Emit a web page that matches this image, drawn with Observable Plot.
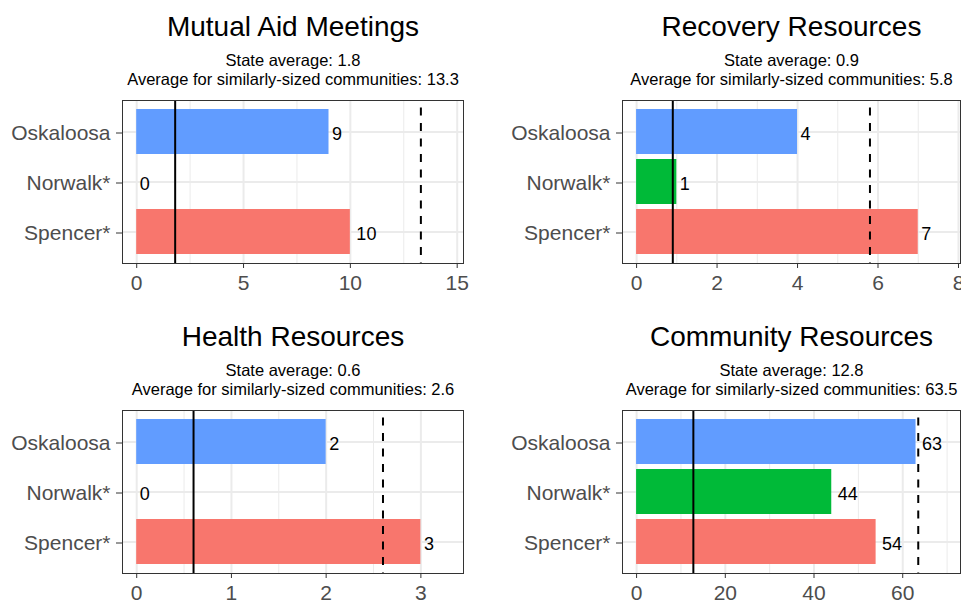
<!DOCTYPE html>
<html><head><meta charset="utf-8">
<script src="https://cdn.jsdelivr.net/npm/d3@7"></script>
<script src="https://cdn.jsdelivr.net/npm/@observablehq/plot@0.6"></script>
<style>
html,body{margin:0;padding:0;background:#fff;overflow:hidden;width:961px;height:601px}
#wrap{position:relative;width:961px;height:601px;font-family:"Liberation Sans",Arial,sans-serif}
.panel{position:absolute}
</style></head><body><div id="wrap"></div>
<script>
const communities = ["Oskaloosa", "Norwalk*", "Spencer*"];
const barColors = ["#619CFF", "#00BA38", "#F8766D"];
const titles = ["Mutual Aid Meetings", "Recovery Resources", "Health Resources", "Community Resources"];
const mutualAid = [9, 0, 10];
const recovery = [4, 1, 7];
const health = [2, 0, 3];
const community = [63, 44, 54];
const stateAvg = [1.8, 0.9, 0.6, 12.8];
const similarAvg = [13.3, 5.8, 2.6, 63.5];
const ticksMutual = [0, 5, 10, 15];
const ticksRecovery = [0, 2, 4, 6, 8];
const ticksHealth = [0, 1, 2, 3];
const ticksCommunity = [0, 20, 40, 60];

const series = [mutualAid, recovery, health, community];
const tickSets = [ticksMutual, ticksRecovery, ticksHealth, ticksCommunity];

const layout = [
  {left: 0, top: 0, width: 480, height: 300, mL: 122, mR: 17, mT: 100, mB: 37},
  {left: 480, top: 0, width: 481, height: 300, mL: 142, mR: 1, mT: 100, mB: 37},
  {left: 0, top: 300, width: 480, height: 301, mL: 122, mR: 17, mT: 110, mB: 28},
  {left: 480, top: 300, width: 481, height: 301, mL: 142, mR: 1, mT: 110, mB: 28}
];

const wrap = document.getElementById("wrap");
const grid = "#EBEBEB";

series.forEach((vals, i) => {
  const L = layout[i];
  const data = communities.map((c, j) => ({community: c, value: vals[j], label: String(vals[j])}));
  const M = Math.max(d3.max(vals), similarAvg[i]);
  const domain = [-0.05 * M, 1.15 * M];
  const major = tickSets[i];
  const step = major[1] - major[0];
  const minor = d3.range(major[0] - step / 2, domain[1], step).filter(v => v > domain[0] && v < domain[1]);
  const subtitle = `State average: ${stateAvg[i]}\nAverage for similarly-sized communities: ${similarAvg[i]}`;

  const chart = Plot.plot({
    width: L.width, height: L.height,
    marginLeft: L.mL, marginRight: L.mR, marginTop: L.mT, marginBottom: L.mB,
    style: {fontFamily: '"Liberation Sans", Arial, sans-serif', background: "white", maxWidth: "none", overflow: "visible"},
    x: {type: "linear", domain, label: null},
    y: {type: "band", domain: communities, paddingInner: 0.1, paddingOuter: 0.15, label: null},
    color: {domain: communities, range: barColors},
    marks: [
      Plot.gridX(minor, {stroke: grid, strokeOpacity: 1, strokeWidth: 1}),
      Plot.gridX(major, {stroke: grid, strokeOpacity: 1, strokeWidth: 2}),
      Plot.gridY(communities, {stroke: grid, strokeOpacity: 1, strokeWidth: 2}),
      Plot.barX(data, {x: "value", y: "community", fill: "community"}),
      Plot.text(data.filter(d => d.label.length === 1), {x: "value", y: "community", text: "label", textAnchor: "start", dx: 3, dy: 2, fontSize: 18, fill: "black"}),
      Plot.text(data.filter(d => d.label.length > 1), {x: "value", y: "community", text: "label", textAnchor: "start", dx: 6, dy: 2, fontSize: 18, fill: "black"}),
      Plot.ruleX([stateAvg[i]], {stroke: "black", strokeWidth: 2}),
      Plot.ruleX([similarAvg[i]], {stroke: "black", strokeWidth: 2, strokeDasharray: "8,7.5", strokeDashoffset: 8}),
      Plot.frame({stroke: "#333", strokeWidth: 1}),
      Plot.axisX(major, {tickSize: 5, tickPadding: 7, fontSize: 21, stroke: "#333", fill: "#4D4D4D", label: null}),
      Plot.axisY({tickSize: 6, tickPadding: 6, fontSize: 21, stroke: "#333", fill: "#4D4D4D", label: null, dy: 1}),
      Plot.text([titles[i]], {frameAnchor: "top", text: d => d, lineAnchor: "bottom", dy: -65, fontSize: 28, fill: "black"}),
      Plot.text([subtitle], {frameAnchor: "top", text: d => d, lineAnchor: "bottom", lineHeight: 1.1, dy: -16, fontSize: 16.5, fill: "black"})
    ]
  });
  const div = document.createElement("div");
  div.className = "panel";
  div.style.left = L.left + "px";
  div.style.top = L.top + "px";
  div.style.width = L.width + "px";
  div.style.height = L.height + "px";
  div.appendChild(chart);
  wrap.appendChild(div);
});
</script></body></html>
